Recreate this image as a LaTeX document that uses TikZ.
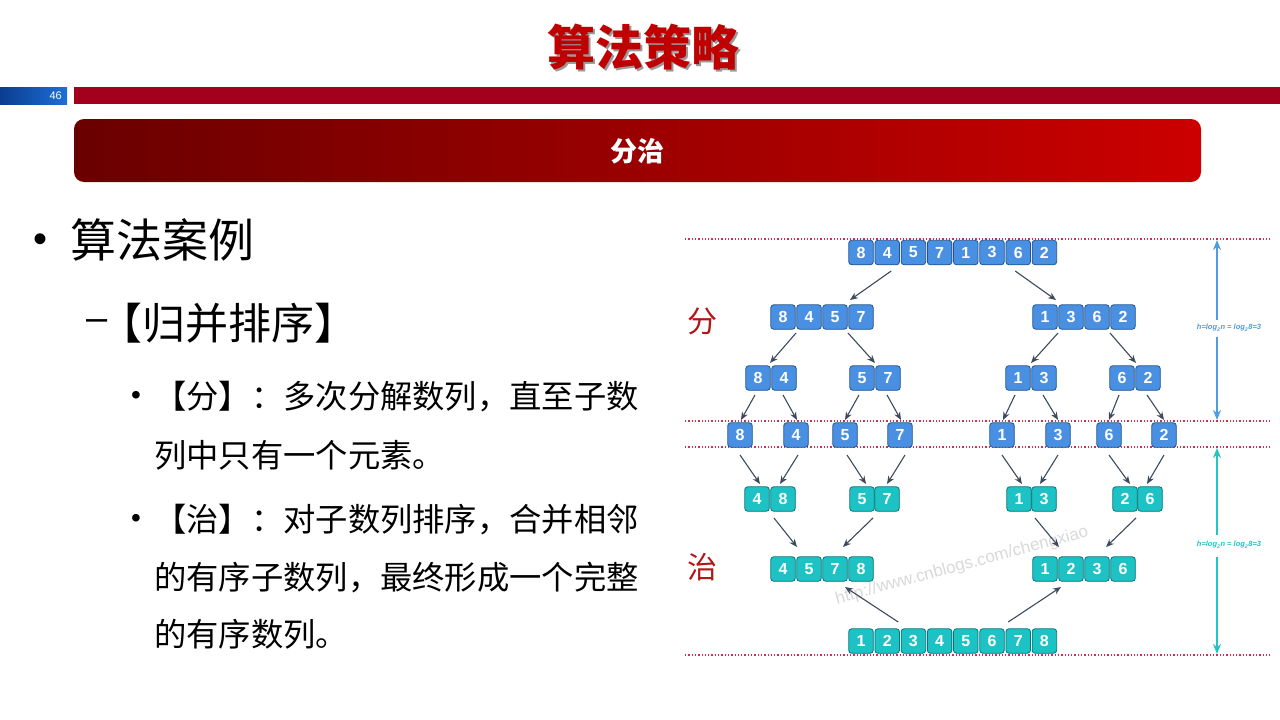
\documentclass[tikz,border=0pt]{standalone}
\usepackage{fontspec}
\usetikzlibrary{arrows.meta,shadings}
\newfontfamily\cjk{Noto Sans CJK SC}
\newfontfamily\numf{Liberation Sans}
\definecolor{titlered}{HTML}{C00000}
\definecolor{barred}{HTML}{A3001E}
\definecolor{bardkblue}{HTML}{0A3D8F}
\definecolor{barltblue}{HTML}{1E6FD8}
\definecolor{hdrdark}{HTML}{6A0000}
\definecolor{hdrlight}{HTML}{CC0000}
\definecolor{bfill}{HTML}{4A90E2}
\definecolor{bborder}{HTML}{22558F}
\definecolor{tfill}{HTML}{1CC2C4}
\definecolor{tborder}{HTML}{0B7478}
\definecolor{arrc}{HTML}{3D4A5C}
\definecolor{dotred}{HTML}{D03050}
\definecolor{hblue}{HTML}{4D9DE0}
\definecolor{hteal}{HTML}{22C4C4}
\definecolor{sidered}{HTML}{B01818}
\tikzset{
  cellbase/.style={rounded corners=3pt, minimum size=24.5pt, inner sep=0pt, line width=0.8pt,
    text=white, font=\numf\bfseries\fontsize{16}{16}\selectfont},
  bc/.style={cellbase, draw=bborder, fill=bfill},
  tc/.style={cellbase, draw=tborder, fill=tfill},
  arr/.style={draw=arrc, line width=1.1pt, -{Stealth[length=8pt,width=6.5pt]}},
  dotline/.style={draw=dotred, line width=1.3pt, dotted},
  bodytext/.style={anchor=west, inner sep=0pt, font=\cjk\fontsize{32.3}{32}\selectfont},
  hlabel/.style={font=\numf\bfseries\itshape\fontsize{7.5}{8}\selectfont, inner sep=0pt}
}
\begin{document}
\begin{tikzpicture}[x=1pt,y=-1pt]
\useasboundingbox (0,0) rectangle (1280,720);
\fill[white] (0,0) rectangle (1280,720);
% title
\node[text=black!40, font=\cjk\bfseries\fontsize{48}{50}\selectfont] (titleshadow) at (645.5,49.5) {算法策略};
\node[text=titlered, font=\cjk\bfseries\fontsize{48}{50}\selectfont] (title) at (643,47) {算法策略};
% top bars
\shade[left color=bardkblue, right color=barltblue] (0,87) rectangle (67,104);
\node[anchor=east, text=white, font=\numf\fontsize{11}{11}\selectfont, inner sep=0pt] (pagenum) at (62,95.5) {46};
\fill[barred] (74,87) rectangle (1280,104);
% header
\shade[left color=hdrdark, right color=hdrlight, rounded corners=10pt] (74,119) rectangle (1201,182);
\node[text=white, font=\cjk\bfseries\fontsize{27}{27}\selectfont] (hdr) at (637,151) {分治};
% left text
\node[anchor=center, font=\numf\fontsize{40}{40}\selectfont, inner sep=0pt] (b1) at (41,243) {•};
\node[anchor=west, inner sep=0pt, font=\cjk\fontsize{46}{46}\selectfont] (t1) at (70,240) {算法案例};
\node[anchor=west, inner sep=0pt, font=\numf\fontsize{38}{38}\selectfont] (d1) at (86,325) {–};
\node[anchor=west, inner sep=0pt, font=\cjk\fontsize{43}{43}\selectfont] (t2) at (99,323) {【归并排序】};
\node[anchor=center, font=\numf\fontsize{28}{28}\selectfont, inner sep=0pt] (b2) at (136,398) {•};
\node[bodytext] (l1) at (154,397) {【分】：多次分解数列，直至子数};
\node[bodytext] (l2) at (154,455) {列中只有一个元素。};
\node[anchor=center, font=\numf\fontsize{28}{28}\selectfont, inner sep=0pt] (b3) at (136,521) {•};
\node[bodytext] (l3) at (154,520) {【治】：对子数列排序，合并相邻};
\node[bodytext] (l4) at (154,578) {的有序子数列，最终形成一个完整};
\node[bodytext] (l5) at (154,634) {的有序数列。};
% watermark
\node[rotate=15, text=black!15, font=\numf\fontsize{17}{17}\selectfont] (wm) at (962,566) {http://www.cnblogs.com/chengxiao};
% dotted lines
\draw[dotline] (685,239) -- (1270,239);
\draw[dotline] (685,421) -- (1270,421);
\draw[dotline] (685,447) -- (1270,447);
\draw[dotline] (685,655) -- (1270,655);
% side labels
\node[text=sidered, font=\cjk\fontsize{30}{30}\selectfont] (fen) at (702,321) {分};
\node[text=sidered, font=\cjk\fontsize{30}{30}\selectfont] (zhi) at (702,567) {治};
% height arrows
\node[hlabel, text=hblue] (hb) at (1229,328) {h=log\textsubscript{2}n = log\textsubscript{2}8=3};
\node[hlabel, text=hteal] (ht) at (1229,545) {h=log\textsubscript{2}n = log\textsubscript{2}8=3};
\coordinate (hbtop) at (1217,240);
\coordinate (hbbot) at (1217,420);
\coordinate (httop) at (1217,448);
\coordinate (htbot) at (1217,654);
\draw[draw=hblue, line width=1.6pt, -{Stealth[length=10pt,width=8pt]}] (hb.north -| hbtop) ++(0,-4) -- (hbtop);
\draw[draw=hblue, line width=1.6pt, -{Stealth[length=10pt,width=8pt]}] (hb.south -| hbbot) ++(0,5) -- (hbbot);
\draw[draw=hteal, line width=1.6pt, -{Stealth[length=10pt,width=8pt]}] (ht.north -| httop) ++(0,-6) -- (httop);
\draw[draw=hteal, line width=1.6pt, -{Stealth[length=10pt,width=8pt]}] (ht.south -| htbot) ++(0,8) -- (htbot);
% row 1
\foreach \n/\x/\v in {T1/861/8,T2/887.2/4,T3/913.4/5,T4/939.6/7,T5/965.8/1,T6/992/3,T7/1018.2/6,T8/1044.4/2}
  \node[bc] (\n) at (\x,252.5) {\v};
% row 2
\foreach \n/\x/\v in {L2a/783/8,L2b/809/4,L2c/835/5,L2d/861/7,R2a/1045/1,R2b/1071/3,R2c/1097/6,R2d/1123/2}
  \node[bc] (\n) at (\x,317) {\v};
% row 3
\foreach \n/\x/\v in {A3a/758/8,A3b/784/4,B3a/862/5,B3b/888/7,C3a/1018/1,C3b/1044/3,D3a/1122/6,D3b/1148/2}
  \node[bc] (\n) at (\x,378) {\v};
% row 4
\foreach \n/\x/\v in {s1/740/8,s2/796/4,s3/845/5,s4/900/7,s5/1002/1,s6/1058/3,s7/1109/6,s8/1164/2}
  \node[bc] (\n) at (\x,435) {\v};
% row 5
\foreach \n/\x/\v in {A5a/757/4,A5b/783/8,B5a/862/5,B5b/887/7,C5a/1019/1,C5b/1044/3,D5a/1125/2,D5b/1150/6}
  \node[tc] (\n) at (\x,499) {\v};
% row 6
\foreach \n/\x/\v in {L6a/783/4,L6b/809/5,L6c/835/7,L6d/861/8,R6a/1045/1,R6b/1071/2,R6c/1097/3,R6d/1123/6}
  \node[tc] (\n) at (\x,569) {\v};
% row 7
\foreach \n/\x/\v in {M1/861/1,M2/887.2/2,M3/913.4/3,M4/939.6/4,M5/965.8/5,M6/992/6,M7/1018.2/7,M8/1044.4/8}
  \node[tc] (\n) at (\x,641) {\v};
% arrows: divide
\draw[arr] ([shift={(4,18.5)}]T2.center) -- ([shift={(-11,-17)}]L2d.center);
\draw[arr] ([shift={(-3,18.5)}]T7.center) -- ([shift={(11,-17)}]R2a.center);
\draw[arr] ([shift={(13,16)}]L2a.center) -- ([shift={(-14,-15)}]A3b.center);
\draw[arr] ([shift={(13,16)}]L2c.center) -- ([shift={(13,-15)}]B3a.center);
\draw[arr] ([shift={(13,16)}]R2a.center) -- ([shift={(-13,-15)}]C3b.center);
\draw[arr] ([shift={(13,16)}]R2c.center) -- ([shift={(14,-15)}]D3a.center);
\draw[arr] ([shift={(-3,17)}]A3a.center) -- ([shift={(1,-15)}]s1.center);
\draw[arr] ([shift={(-1,17)}]A3b.center) -- ([shift={(1,-15)}]s2.center);
\draw[arr] ([shift={(-3,17)}]B3a.center) -- ([shift={(0,-15)}]s3.center);
\draw[arr] ([shift={(-1,17)}]B3b.center) -- ([shift={(1,-15)}]s4.center);
\draw[arr] ([shift={(-3,17)}]C3a.center) -- ([shift={(1,-15)}]s5.center);
\draw[arr] ([shift={(-1,17)}]C3b.center) -- ([shift={(0,-15)}]s6.center);
\draw[arr] ([shift={(-3,17)}]D3a.center) -- ([shift={(0,-15)}]s7.center);
\draw[arr] ([shift={(-1,17)}]D3b.center) -- ([shift={(0,-15)}]s8.center);
% arrows: conquer
\draw[arr] ([shift={(0,20)}]s1.center) -- ([shift={(3,-15)}]A5a.center);
\draw[arr] ([shift={(2,20)}]s2.center) -- ([shift={(-3,-15)}]A5b.center);
\draw[arr] ([shift={(2,20)}]s3.center) -- ([shift={(4,-15)}]B5a.center);
\draw[arr] ([shift={(5,20)}]s4.center) -- ([shift={(0,-15)}]B5b.center);
\draw[arr] ([shift={(0,20)}]s5.center) -- ([shift={(3,-15)}]C5a.center);
\draw[arr] ([shift={(0,20)}]s6.center) -- ([shift={(-4,-15)}]C5b.center);
\draw[arr] ([shift={(0,20)}]s7.center) -- ([shift={(5,-15)}]D5a.center);
\draw[arr] ([shift={(0,20)}]s8.center) -- ([shift={(-3,-15)}]D5b.center);
\draw[arr] ([shift={(-9,19)}]A5b.center) -- ([shift={(-12,-22)}]L6b.center);
\draw[arr] ([shift={(11,19)}]B5a.center) -- ([shift={(8,-22)}]L6c.center);
\draw[arr] ([shift={(-9,19)}]C5b.center) -- ([shift={(-12,-22)}]R6b.center);
\draw[arr] ([shift={(11,19)}]D5a.center) -- ([shift={(9,-22)}]R6c.center);
\draw[arr] ([shift={(11,-19)}]M2.center) -- ([shift={(10,18)}]L6c.center);
\draw[arr] ([shift={(-10,-19)}]M7.center) -- ([shift={(-10,18)}]R6b.center);
\end{tikzpicture}
\end{document}
